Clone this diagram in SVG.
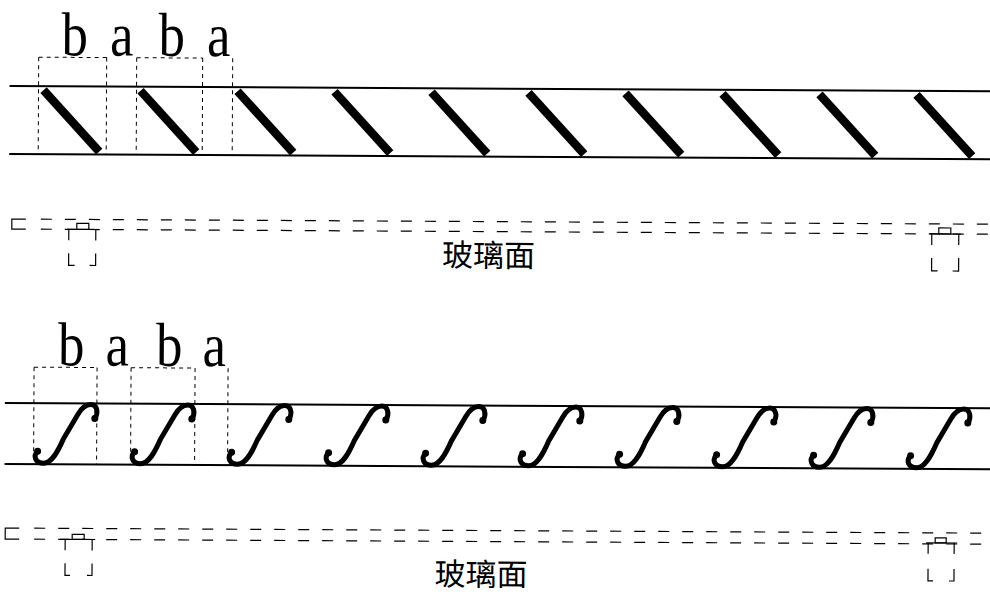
<svg xmlns="http://www.w3.org/2000/svg" xmlns:xlink="http://www.w3.org/1999/xlink" width="990" height="594" viewBox="0 0 990 594">
<style>
.band{stroke:#000;stroke-width:2;fill:none}
.guide{stroke:#000;stroke-width:1;stroke-dasharray:4 4;fill:none}
.strip{stroke:#000;stroke-width:1.2;stroke-dasharray:11 13;fill:none}
.solid{stroke:#000;stroke-width:1.2;fill:none}
.lbl{font-family:"Liberation Serif",serif;font-size:62px;fill:#000;text-anchor:middle}
.cjk{font-family:"Noto Sans CJK TC","Noto Sans CJK SC",sans-serif;font-size:31px;fill:#000;text-anchor:middle}
.slash{stroke:#000;stroke-width:8.5;stroke-linecap:butt}
.scurve{stroke:#000;stroke-width:5;fill:none;stroke-linecap:round}
</style>
<defs>
<line id="sl" class="slash" x1="44" y1="90" x2="100" y2="151"/>
<g id="sc">
<path class="scurve" d="M40,451 C35,456 38,463 46,463 C54,463 60,452 66,438 L80,414 C84,407 88,404 93,404 C99,404 101,412 97,418"/>
<circle cx="40" cy="451" r="3.5"/>
<circle cx="97" cy="418" r="3.5"/>
</g>
</defs>
<g transform="rotate(0.3)">
<g id="band1">
<line class="band" x1="10" y1="86" x2="995" y2="86"/>
<line class="band" x1="10" y1="154" x2="995" y2="154"/>
</g>
<g id="labels1">
<text class="lbl" transform="translate(75,55) scale(0.85,1)">b</text>
<text class="lbl" transform="translate(122,55) scale(0.85,1)">a</text>
<text class="lbl" transform="translate(172,55) scale(0.85,1)">b</text>
<text class="lbl" transform="translate(219,55) scale(0.85,1)">a</text>
</g>
<g id="guides1">
<path class="guide" d="M39,57 H107 M137,57 H203 M39,57 V154 M107,57 V154 M137,57 V154 M203,57 V154 M233,57 V154"/>
</g>
<g id="slashes">
<use xlink:href="#sl"/>
<use xlink:href="#sl" x="97"/>
<use xlink:href="#sl" x="194"/>
<use xlink:href="#sl" x="291"/>
<use xlink:href="#sl" x="388"/>
<use xlink:href="#sl" x="485"/>
<use xlink:href="#sl" x="582"/>
<use xlink:href="#sl" x="679"/>
<use xlink:href="#sl" x="776"/>
<use xlink:href="#sl" x="873"/>
</g>
<g id="glass1">
<path class="solid" d="M27,219 H13 V229 H27"/>
<path class="strip" d="M42,219 H995 M42,229 H995"/>
<g id="holder1a">
<rect class="solid" x="78" y="223" width="12" height="6"/>
<path class="solid" d="M68,229 H98 M70,229 V240 M97,229 V240 M70,253 V265 H76 M91,265 H97 V253"/>
</g>
<g id="holder1b">
<rect class="solid" x="940" y="223" width="12" height="6"/>
<path class="solid" d="M931,229 H962 M933,229 V240 M960,229 V240 M933,253 V266 H939 M954,266 H960 V253"/>
</g>
<text class="cjk" x="490" y="264">玻璃面</text>
</g>
<g id="band2">
<line class="band" x1="7" y1="403" x2="995" y2="403"/>
<line class="band" x1="7" y1="464" x2="995" y2="464"/>
</g>
<g id="labels2">
<text class="lbl" transform="translate(73,365) scale(0.85,1)">b</text>
<text class="lbl" transform="translate(119,365) scale(0.85,1)">a</text>
<text class="lbl" transform="translate(171,365) scale(0.85,1)">b</text>
<text class="lbl" transform="translate(216,365) scale(0.85,1)">a</text>
</g>
<g id="guides2">
<path class="guide" d="M36,367 H99 M133,367 H197 M36,367 V464 M99,367 V464 M133,367 V464 M197,367 V464 M230,367 V464"/>
</g>
<g id="scurves">
<use xlink:href="#sc"/>
<use xlink:href="#sc" x="97"/>
<use xlink:href="#sc" x="194"/>
<use xlink:href="#sc" x="291"/>
<use xlink:href="#sc" x="388"/>
<use xlink:href="#sc" x="485"/>
<use xlink:href="#sc" x="582"/>
<use xlink:href="#sc" x="679"/>
<use xlink:href="#sc" x="776"/>
<use xlink:href="#sc" x="873"/>
</g>
<g id="glass2">
<path class="solid" d="M22,528 H8 V539 H22"/>
<path class="strip" d="M37,528 H995 M37,539 H995"/>
<g id="holder2a">
<rect class="solid" x="75" y="534" width="12" height="5"/>
<path class="solid" d="M63,539 H98 M68,539 V550 M95,539 V550 M68,563 V575 H73 M90,575 H95 V563"/>
</g>
<g id="holder2b">
<rect class="solid" x="938" y="533" width="11" height="5"/>
<path class="solid" d="M929,538 H960 M931,538 V549 M957,538 V549 M931,564 V576 H936 M952,576 H957 V564"/>
</g>
<text class="cjk" x="484" y="583">玻璃面</text>
</g>
</g>
</svg>
